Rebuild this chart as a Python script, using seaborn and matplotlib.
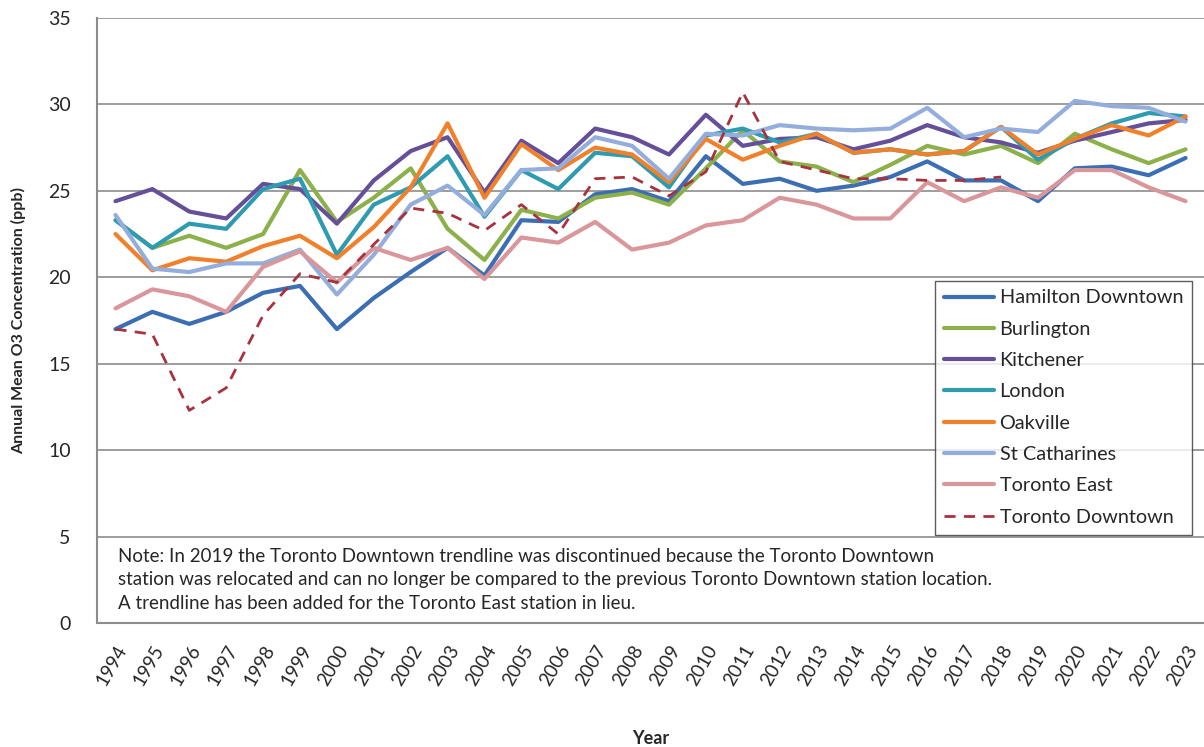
import matplotlib
matplotlib.use("Agg")
import numpy as np
import pandas as pd
import seaborn as sns
import matplotlib.pyplot as plt

# Data (ppb)
years = list(range(1994, 2024))

hamilton_downtown = [17.0, 18.0, 17.3, 18.0, 19.1, 19.5, 17.0, 18.8, 20.3, 21.7,
                     20.1, 23.3, 23.2, 24.8, 25.1, 24.4, 27.0, 25.4, 25.7, 25.0,
                     25.3, 25.8, 26.7, 25.6, 25.6, 24.4, 26.3, 26.4, 25.9, 26.9]
burlington = [23.3, 21.7, 22.4, 21.7, 22.5, 26.2, 23.2, 24.6, 26.3, 22.8,
              21.0, 23.9, 23.4, 24.6, 24.9, 24.2, 26.3, 28.5, 26.7, 26.4,
              25.5, 26.5, 27.6, 27.1, 27.6, 26.6, 28.3, 27.4, 26.6, 27.4]
kitchener = [24.4, 25.1, 23.8, 23.4, 25.4, 25.1, 23.1, 25.6, 27.3, 28.1,
             24.9, 27.9, 26.6, 28.6, 28.1, 27.1, 29.4, 27.6, 28.0, 28.1,
             27.4, 27.9, 28.8, 28.1, 27.8, 27.2, 27.9, 28.4, 28.9, 29.1]
london = [23.3, 21.7, 23.1, 22.8, 25.1, 25.7, 21.3, 24.2, 25.2, 27.0,
          23.5, 26.2, 25.1, 27.2, 27.0, 25.2, 28.2, 28.6, 27.8, 28.3,
          27.2, 27.4, 27.1, 27.3, 28.7, 26.8, 28.0, 28.9, 29.5, 29.3]
oakville = [22.5, 20.4, 21.1, 20.9, 21.8, 22.4, 21.1, 22.9, 25.2, 28.9,
            24.6, 27.7, 26.2, 27.5, 27.1, 25.5, 28.0, 26.8, 27.6, 28.3,
            27.2, 27.4, 27.1, 27.3, 28.7, 27.1, 28.0, 28.8, 28.2, 29.3]
st_catharines = [23.6, 20.5, 20.3, 20.8, 20.8, 21.6, 19.0, 21.3, 24.2, 25.3,
                 23.6, 26.2, 26.3, 28.1, 27.6, 25.7, 28.3, 28.2, 28.8, 28.6,
                 28.5, 28.6, 29.8, 28.1, 28.6, 28.4, 30.2, 29.9, 29.8, 29.0]
toronto_east = [18.2, 19.3, 18.9, 18.0, 20.6, 21.5, 19.7, 21.7, 21.0, 21.7,
                19.9, 22.3, 22.0, 23.2, 21.6, 22.0, 23.0, 23.3, 24.6, 24.2,
                23.4, 23.4, 25.5, 24.4, 25.2, 24.6, 26.2, 26.2, 25.2, 24.4]
toronto_downtown = [17.0, 16.7, 12.3, 13.6, 17.8, 20.2, 19.7, 21.9, 24.0, 23.7,
                    22.7, 24.2, 22.5, 25.7, 25.8, 24.7, 26.1, 30.7, 26.7, 26.2,
                    25.7, 25.7, 25.6, 25.6, 25.8, np.nan, np.nan, np.nan, np.nan, np.nan]

stations = ["Hamilton Downtown", "Burlington", "Kitchener", "London",
            "Oakville", "St Catharines", "Toronto East", "Toronto Downtown"]
series = [hamilton_downtown, burlington, kitchener, london,
          oakville, st_catharines, toronto_east, toronto_downtown]
colors = ["#3C6EB4", "#8CB04A", "#654F98", "#2F9BB1",
          "#F0802A", "#93AEDC", "#D9969B", "#A8323E"]

note = ("Note: In 2019 the Toronto Downtown trendline was discontinued because the Toronto Downtown\n"
        "station was relocated and can no longer be compared to the previous Toronto Downtown station location.\n"
        "A trendline has been added for the Toronto East station in lieu.")

sns.set_style("white")
plt.rcParams["font.family"] = ["Lato", "DejaVu Sans"]

fig = plt.figure(figsize=(12.04, 7.47), dpi=100)
ax = fig.add_axes([0.0806, 0.166, 0.9194, 0.810])

idx = np.arange(len(years))
for name, vals, col in zip(stations, series, colors):
    df = pd.DataFrame({"pos": idx, "value": vals}).dropna()
    dashed = name == "Toronto Downtown"
    sns.lineplot(data=df, x="pos", y="value", ax=ax, color=col,
                 lw=2.0 if dashed else 3.0, linestyle=(0, (4, 3)) if dashed else "-",
                 label=name)

ax.set_ylim(0, 35)
ax.set_xlim(-0.5, len(years) - 0.5)
ax.set_yticks(range(0, 36, 5))
ax.yaxis.grid(True, color="#8C8C8C", lw=1.2)
ax.set_axisbelow(True)

ax.set_xticks(idx)
ax.set_xticklabels([str(y) for y in years], rotation=60, ha="right",
                   rotation_mode="anchor", fontsize=13.5)
ax.set_xticks(np.arange(-0.5, len(years), 1), minor=True)
ax.tick_params(axis="x", which="major", length=0, pad=14)
ax.tick_params(axis="x", which="minor", length=5, color="#8C8C8C", width=1)
ax.tick_params(axis="y", length=5, color="#8C8C8C", width=1, labelsize=14, pad=14)

for s in ["top", "right"]:
    ax.spines[s].set_visible(False)
for s in ["left", "bottom"]:
    ax.spines[s].set_color("#8C8C8C")
    ax.spines[s].set_linewidth(1.5)

ax.set_xlabel("Year", fontsize=13, fontweight="bold", labelpad=30)
ax.set_ylabel("Annual Mean O3 Concentration (ppb)", fontsize=11.5, fontweight="bold", labelpad=16)

ax.text(0.019, 0.124, note, transform=ax.transAxes, fontsize=13.5,
        va="top", ha="left", linespacing=1.45)

leg = ax.legend(loc="upper left", bbox_to_anchor=(0.757, 0.566), fontsize=14.3,
                frameon=True, fancybox=False, edgecolor="#333333",
                handlelength=2.5, handletextpad=0.3, labelspacing=0.72,
                borderpad=0.45, borderaxespad=0)
leg.get_frame().set_linewidth(1.0)

fig.savefig("out.png", dpi=100)
